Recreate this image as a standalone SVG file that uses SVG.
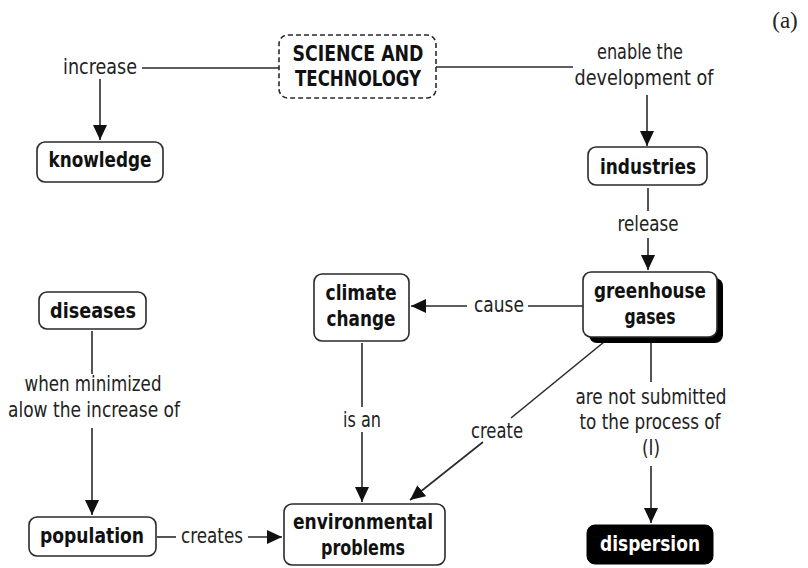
<svg xmlns="http://www.w3.org/2000/svg" width="808" height="568" viewBox="0 0 808 568">
<defs>
<style>
.box{fill:#fff;stroke:#2a2a2a;stroke-width:1.6}
.dash{fill:#fff;stroke:#2a2a2a;stroke-width:1.6;stroke-dasharray:5 3}
.nt{font-family:"Liberation Sans Narrow","DejaVu Sans Condensed","Liberation Sans",Arial,sans-serif;font-weight:bold;font-size:21px;fill:#111;text-anchor:middle}
.lt{font-family:"Liberation Sans Narrow","DejaVu Sans Condensed","Liberation Sans",Arial,sans-serif;font-size:21px;fill:#222;text-anchor:middle}
.ln{stroke:#2a2a2a;stroke-width:1.6;fill:none}
</style>
<marker id="arr" markerUnits="userSpaceOnUse" markerWidth="16" markerHeight="14" refX="15" refY="7" orient="auto">
<path d="M0,0 L15,7 L0,14 Z" fill="#111"/>
</marker>
</defs>
<rect width="808" height="568" fill="#fff"/>
<text x="785" y="28" font-family="Liberation Serif,serif" font-size="23" text-anchor="middle" fill="#222">(a)</text>

<g id="connectors">
<line class="ln" x1="142" y1="68" x2="279" y2="68"/>
<line class="ln" x1="100" y1="79" x2="100" y2="140" marker-end="url(#arr)"/>
<line class="ln" x1="436" y1="67" x2="573" y2="67"/>
<line class="ln" x1="647" y1="95" x2="647" y2="146" marker-end="url(#arr)"/>
<line class="ln" x1="648" y1="188" x2="648" y2="211"/>
<line class="ln" x1="648" y1="238" x2="648" y2="270" marker-end="url(#arr)"/>
<line class="ln" x1="583" y1="306" x2="528" y2="306"/>
<line class="ln" x1="467" y1="306" x2="411" y2="306" marker-end="url(#arr)"/>
<line class="ln" x1="362" y1="343" x2="362" y2="407"/>
<line class="ln" x1="362" y1="432" x2="362" y2="502" marker-end="url(#arr)"/>
<line class="ln" x1="604" y1="342" x2="511" y2="418"/>
<line class="ln" x1="483" y1="442" x2="410" y2="500" marker-end="url(#arr)"/>
<line class="ln" x1="651" y1="343" x2="651" y2="382"/>
<line class="ln" x1="651" y1="466" x2="651" y2="523" marker-end="url(#arr)"/>
<line class="ln" x1="92" y1="331" x2="92" y2="374"/>
<line class="ln" x1="92" y1="428" x2="92" y2="515" marker-end="url(#arr)"/>
<line class="ln" x1="157" y1="537" x2="176" y2="537"/>
<line class="ln" x1="248" y1="537" x2="282" y2="537" marker-end="url(#arr)"/>
</g>

<g id="labels">
<text class="lt" x="100" y="74" textLength="74" lengthAdjust="spacingAndGlyphs">increase</text>
<text class="lt" x="640" y="59" textLength="86" lengthAdjust="spacingAndGlyphs">enable the</text>
<text class="lt" x="644" y="85" textLength="139" lengthAdjust="spacingAndGlyphs">development of</text>
<text class="lt" x="648" y="231" textLength="61" lengthAdjust="spacingAndGlyphs">release</text>
<text class="lt" x="499" y="312" textLength="50" lengthAdjust="spacingAndGlyphs">cause</text>
<text class="lt" x="93" y="391" textLength="137" lengthAdjust="spacingAndGlyphs">when minimized</text>
<text class="lt" x="94" y="417" textLength="172" lengthAdjust="spacingAndGlyphs">alow the increase of</text>
<text class="lt" x="362" y="427" textLength="38" lengthAdjust="spacingAndGlyphs">is an</text>
<text class="lt" x="497" y="438" textLength="52" lengthAdjust="spacingAndGlyphs">create</text>
<text class="lt" x="651" y="404" textLength="151" lengthAdjust="spacingAndGlyphs">are not submitted</text>
<text class="lt" x="650" y="429" textLength="141" lengthAdjust="spacingAndGlyphs">to the process of</text>
<text class="lt" x="651" y="455" textLength="18" lengthAdjust="spacingAndGlyphs">(I)</text>
<text class="lt" x="212" y="543" textLength="62" lengthAdjust="spacingAndGlyphs">creates</text>
</g>

<g id="science">
<rect class="dash" x="279" y="35" width="157" height="63" rx="9"/>
<text class="nt" x="358" y="61" textLength="131" lengthAdjust="spacingAndGlyphs">SCIENCE AND</text>
<text class="nt" x="358" y="86" textLength="126" lengthAdjust="spacingAndGlyphs">TECHNOLOGY</text>
</g>
<g id="knowledge">
<rect class="box" x="37" y="142" width="126" height="40" rx="8"/>
<text class="nt" x="100" y="167" textLength="103" lengthAdjust="spacingAndGlyphs">knowledge</text>
</g>
<g id="industries">
<rect class="box" x="588" y="147" width="119" height="38" rx="8"/>
<text class="nt" x="648" y="174" textLength="96" lengthAdjust="spacingAndGlyphs">industries</text>
</g>
<g id="greenhouse">
<rect x="589" y="278" width="134" height="65" rx="8" fill="#000"/>
<rect class="box" x="583" y="272" width="134" height="65" rx="8"/>
<text class="nt" x="650" y="298" textLength="112" lengthAdjust="spacingAndGlyphs">greenhouse</text>
<text class="nt" x="650" y="324" textLength="51" lengthAdjust="spacingAndGlyphs">gases</text>
</g>
<g id="climate">
<rect class="box" x="314" y="274" width="95" height="67" rx="8"/>
<text class="nt" x="361" y="300" textLength="71" lengthAdjust="spacingAndGlyphs">climate</text>
<text class="nt" x="361" y="326" textLength="69" lengthAdjust="spacingAndGlyphs">change</text>
</g>
<g id="diseases">
<rect class="box" x="39" y="292" width="107" height="37" rx="8"/>
<text class="nt" x="93" y="318" textLength="86" lengthAdjust="spacingAndGlyphs">diseases</text>
</g>
<g id="population">
<rect class="box" x="29" y="517" width="127" height="39" rx="8"/>
<text class="nt" x="92" y="543" textLength="104" lengthAdjust="spacingAndGlyphs">population</text>
</g>
<g id="environmental">
<rect class="box" x="284" y="504" width="161" height="61" rx="8"/>
<text class="nt" x="363" y="529" textLength="140" lengthAdjust="spacingAndGlyphs">environmental</text>
<text class="nt" x="363" y="555" textLength="84" lengthAdjust="spacingAndGlyphs">problems</text>
</g>
<g id="dispersion">
<rect x="587" y="525" width="126" height="39" rx="8" fill="#000" stroke="#000"/>
<text class="nt" x="650" y="551" textLength="100" lengthAdjust="spacingAndGlyphs" style="fill:#fff">dispersion</text>
</g>
</svg>
